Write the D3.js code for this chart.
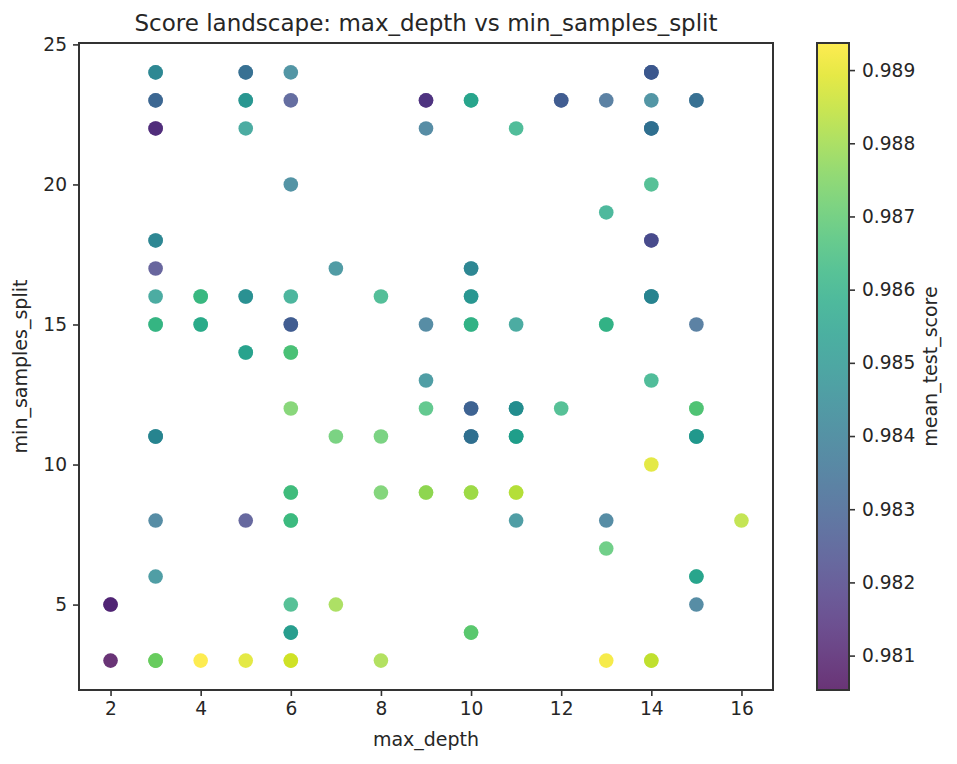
<!DOCTYPE html>
<html>
<head>
<meta charset="utf-8">
<script src="https://cdn.jsdelivr.net/npm/d3@7"></script>
<style>
  body { margin: 0; background: #fff; }
  svg { display: block; }
  svg text { font-family: "DejaVu Sans", "DejaVuSans", Verdana, sans-serif; fill: #262626; }
  .tick text { font-size: 18.6px; }
  .tick line, .domain { stroke: #333; }
</style>
</head>
<body>
<svg width="957" height="764"></svg>
<script>
// grid search results (repeated configs => nRuns)
var maxDepth = [3,3,3,5,5,5,6,6,6,3, 3,3,4,5,6,3,4,6,5,6, 6,3,6,3,5,6,3,2,6,6,
                2,3,4,5,6,9,10,9,11,7, 10,8,10,9,10,11,9,9,10,11, 7,8,10,11,8,9,10,11,11,7,
                10,8,14,12,13,14,15,14,14,13, 14,14,13,15,14,12,15,15,14,13, 16,13,15,15,13,14];
var minSamplesSplit = [24,23,22,24,23,22,24,23,20,18, 17,16,16,16,16,15,15,15,14,14, 12,11,9,8,8,8,6,5,5,4,
                3,3,3,3,3,23,23,22,22,17, 17,16,16,15,15,15,13,12,12,12, 11,11,11,11,9,9,9,9,8,5,
                4,3,24,23,23,23,23,22,20,19, 18,16,15,15,13,12,12,11,10,8, 8,7,6,5,3,3];
var meanTestScore = [0.9845,0.9832,0.9814,0.9836,0.9850,0.9852,0.9842,0.9825,0.9841,0.9844,
                0.9822,0.9852,0.9863,0.9848,0.9857,0.9862,0.9858,0.9829,0.9855,0.9867,
                0.9874,0.9845,0.9865,0.9838,0.9823,0.9864,0.9846,0.9812,0.9862,0.9853,
                0.98053,0.9873,0.98937,0.9889,0.9887,0.9816,0.9856,0.9838,0.9860,0.9845,
                0.9844,0.9861,0.9850,0.9838,0.9861,0.9852,0.9846,0.9866,0.9831,0.9848,
                0.9871,0.9871,0.9837,0.9854,0.9873,0.9878,0.9880,0.9883,0.9846,0.9880,
                0.9870,0.9881,0.9829,0.9829,0.9833,0.9842,0.9836,0.9837,0.9862,0.9858,
                0.9823,0.9844,0.9861,0.9833,0.9860,0.9862,0.9868,0.9852,0.9889,0.9838,
                0.9884,0.9869,0.9856,0.9838,0.9892,0.9885];
var nRuns = [2,2,2,2,2,1,1,1,1,2, 1,1,2,2,1,2,2,2,2,2, 1,3,2,1,1,2,1,2,1,2,
             1,3,1,1,2,2,2,1,1,1, 2,1,2,1,2,1,1,1,2,3, 1,1,3,3,1,2,2,2,1,1,
             2,1,3,2,1,1,2,3,1,1, 2,3,2,1,1,1,2,3,1,1, 1,1,2,1,1,2];
var xTicks = [2,4,6,8,10,12,14,16];
var yTicks = [5,10,15,20,25];
var cbTicks = [0.981,0.982,0.983,0.984,0.985,0.986,0.987,0.988,0.989];

var rows = [];
maxDepth.forEach((d, i) => {
  for (var k = 0; k < nRuns[i]; k++)
    rows.push({x: d, y: minSamplesSplit[i], s: meanTestScore[i]});
});

var svg = d3.select('svg');
var plotL = 79, plotR = 773, plotT = 43, plotB = 690;

var x = d3.scaleLinear().domain([1.3, 16.7]).range([plotL, plotR]);
var y = d3.scaleLinear().domain([1.95, 25.05]).range([plotB, plotT]);
var color = d3.scaleSequential(d3.interpolateViridis).domain(d3.extent(meanTestScore));

svg.append('g')
  .selectAll('circle')
  .data(rows)
  .enter()
  .append('circle')
    .attr('cx', d => x(d.x))
    .attr('cy', d => y(d.y))
    .attr('r', 7.3)
    .attr('fill', d => color(d.s))
    .attr('fill-opacity', 0.8);

// frame
svg.append('rect')
  .attr('x', plotL).attr('y', plotT)
  .attr('width', plotR - plotL).attr('height', plotB - plotT)
  .attr('fill', 'none').attr('stroke', '#333').attr('stroke-width', 2);

var xAxis = svg.append('g')
  .attr('transform', `translate(0,${plotB})`)
  .call(d3.axisBottom(x).tickValues(xTicks).tickSize(6).tickPadding(6));
var yAxis = svg.append('g')
  .attr('transform', `translate(${plotL},0)`)
  .call(d3.axisLeft(y).tickValues(yTicks).tickSize(6).tickPadding(6));
[xAxis, yAxis].forEach(a => {
  a.attr('font-family', null);
  a.select('.domain').remove();
  a.selectAll('.tick line').attr('stroke-width', 1.6);
});

svg.append('text')
  .attr('x', (plotL + plotR) / 2).attr('y', 31)
  .attr('text-anchor', 'middle').attr('font-size', 23)
  .text('Score landscape: max_depth vs min_samples_split');
svg.append('text')
  .attr('x', (plotL + plotR) / 2).attr('y', 746)
  .attr('text-anchor', 'middle').attr('font-size', 19)
  .text('max_depth');
svg.append('text')
  .attr('transform', `translate(27,${(plotT + plotB) / 2}) rotate(-90)`)
  .attr('text-anchor', 'middle').attr('font-size', 19)
  .text('min_samples_split');

// colorbar
var cbLeft = 817, cbWidth = 32;
var grad = svg.append('defs').append('linearGradient')
  .attr('id', 'viridis').attr('x1', 0).attr('y1', 1).attr('x2', 0).attr('y2', 0);
d3.range(0, 1.001, 0.05).forEach(t => {
  grad.append('stop').attr('offset', t).attr('stop-color', d3.interpolateViridis(t));
});
svg.append('rect')
  .attr('x', cbLeft).attr('y', plotT)
  .attr('width', cbWidth).attr('height', plotB - plotT)
  .attr('fill', 'url(#viridis)').attr('fill-opacity', 0.8);
svg.append('rect')
  .attr('x', cbLeft).attr('y', plotT)
  .attr('width', cbWidth).attr('height', plotB - plotT)
  .attr('fill', 'none').attr('stroke', '#333').attr('stroke-width', 2);

var cbScale = d3.scaleLinear().domain(color.domain()).range([plotB, plotT]);
var cbAxis = svg.append('g')
  .attr('transform', `translate(${cbLeft + cbWidth},0)`)
  .call(d3.axisRight(cbScale).tickValues(cbTicks).tickFormat(d3.format('.3f')).tickSize(6).tickPadding(7));
cbAxis.attr('font-family', null);
cbAxis.select('.domain').remove();
cbAxis.selectAll('.tick line').attr('stroke-width', 1.6);

svg.append('text')
  .attr('transform', `translate(937,${(plotT + plotB) / 2}) rotate(-90)`)
  .attr('text-anchor', 'middle').attr('font-size', 19)
  .text('mean_test_score');
</script>
</body>
</html>
